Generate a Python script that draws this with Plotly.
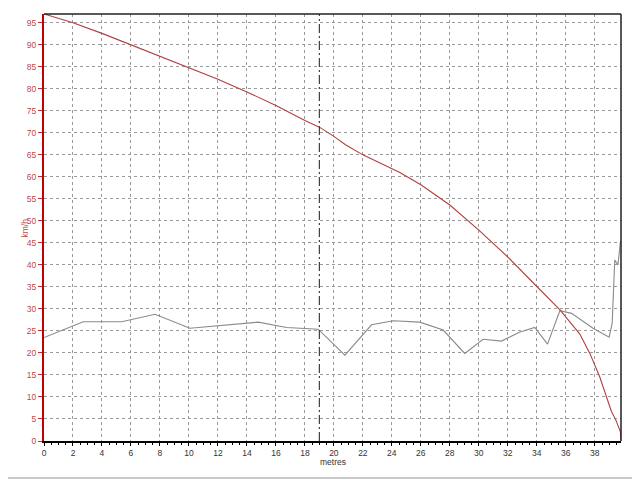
import plotly.graph_objects as go

# Red curve (speed, km/h vs metres)
red_x = [0, 2, 4, 6, 8, 10, 12, 14, 16, 18, 19, 20, 20.8, 22, 24.55, 26, 28, 30,
         32, 34, 35.6, 36.97, 37.66, 38.34, 38.8, 39.15, 39.45, 39.77, 39.81]
red_y = [97, 95, 92.6, 90, 87.5, 84.9, 82.2, 79.3, 76.2, 72.8, 71.3, 69.2, 67.3,
         65.0, 61.0, 58.2, 53.6, 47.9, 41.8, 35.1, 29.8, 24.3, 19.9, 14.6, 10.0,
         6.7, 4.8, 2.1, 0.3]

# Grey curve
grey_x = [0, 2.71, 5.36, 7.66, 10.07, 14.78, 16.74, 18.92, 20.76, 22.6, 24.09,
          25.93, 27.54, 29.03, 30.3, 31.56, 32.8, 33.86, 34.74, 35.59, 36.4,
          36.97, 37.88, 38.99, 39.2, 39.38, 39.54, 39.6, 39.77, 39.81]
grey_y = [23.5, 27.1, 27.1, 28.8, 25.6, 27.0, 25.8, 25.4, 19.5, 26.4, 27.3,
          27.0, 25.2, 19.9, 23.1, 22.7, 24.7, 25.8, 22.0, 29.6, 29.0, 27.7,
          25.6, 23.6, 26.7, 41.1, 40.4, 40.0, 45.3, 45.5]

x_ticks = list(range(0, 39, 2))
y_ticks = list(range(0, 96, 5))
marker_x = 19
x_max = 39.81
y_max = 97

fig = go.Figure()
fig.add_trace(go.Scatter(x=grey_x, y=grey_y, mode="lines",
                         line=dict(color="#8a8a8a", width=1.1), showlegend=False))
fig.add_trace(go.Scatter(x=red_x, y=red_y, mode="lines",
                         line=dict(color="#b04040", width=1.1), showlegend=False))

fig.add_shape(type="line", xref="x", yref="paper", x0=marker_x, x1=marker_x,
              y0=0, y1=1, line=dict(color="#404040", width=1.2,
                                    dash="9px,3px,2px,3px"))
# top and right frame
fig.add_shape(type="line", xref="paper", yref="paper", x0=0, x1=1, y0=1, y1=1,
              line=dict(color="#202020", width=1.5))
fig.add_shape(type="line", xref="paper", yref="paper", x0=1, x1=1, y0=0, y1=1,
              line=dict(color="#202020", width=1.5))
# bottom window edge
fig.add_shape(type="line", xref="paper", yref="paper", x0=-0.1, x1=1.05,
              y0=-0.0865, y1=-0.0865, line=dict(color="#c8c8c8", width=2))

font = "Liberation Sans, Arial, sans-serif"
fig.add_annotation(text="metres", xref="paper", yref="paper", x=0.5, y=-0.05,
                   yanchor="middle", showarrow=False,
                   font=dict(family=font, size=8.5, color="#333333"))
fig.add_annotation(text="km/h", xref="paper", yref="paper", x=-0.033, y=0.5,
                   xanchor="center", yanchor="middle", textangle=-90, showarrow=False,
                   font=dict(family=font, size=8.5, color="#c04848"))

# page body has an 8px margin: shrink the figure so the plot area lands
# where the reference has it
fig.update_layout(
    width=632, height=472,
    margin=dict(l=36, r=19, t=6, b=39),
    paper_bgcolor="white", plot_bgcolor="white",
    xaxis=dict(range=[0, x_max], tickvals=x_ticks, ticktext=[str(v) for v in x_ticks],
               automargin=False,
               showgrid=True, gridcolor="#9a9a9a", griddash="3px,3px", gridwidth=1,
               showline=True, linecolor="#000000", linewidth=2,
               ticks="outside", ticklen=3, tickcolor="#000000",
               tickfont=dict(family=font, size=8.5, color="#333333"),
               minor=dict(dtick=0.5, tick0=0, ticks="outside", ticklen=2,
                          tickcolor="#000000", showgrid=False),
               zeroline=False),
    yaxis=dict(range=[0, y_max], tickvals=y_ticks, ticktext=[str(v) for v in y_ticks],
               automargin=False,
               showgrid=True, gridcolor="#9a9a9a", griddash="3px,3px", gridwidth=1,
               showline=True, linecolor="#c00000", linewidth=2,
               ticks="outside", ticklen=4, tickcolor="#c03030",
               tickfont=dict(family=font, size=8.5, color="#c04848"),
               zeroline=False),
)

fig.write_html("out.html")
